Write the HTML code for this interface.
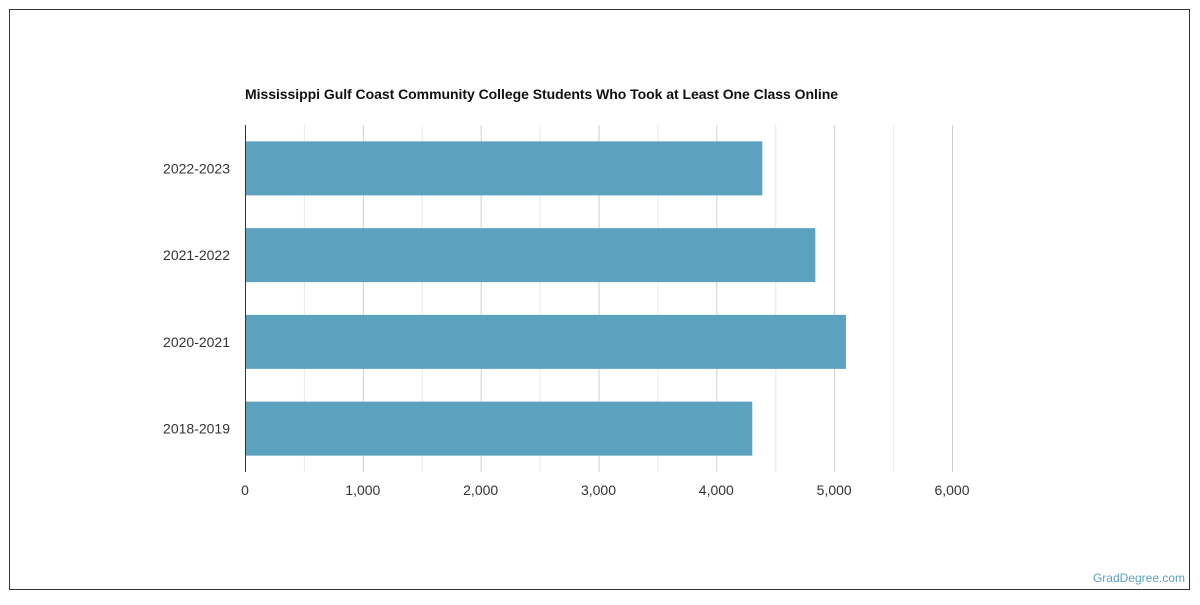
<!DOCTYPE html>
<html><head><meta charset="utf-8"><style>
body{margin:0;background:#fff;font-family:"Liberation Sans",sans-serif}
svg text{font-family:"Liberation Sans",sans-serif}
</style></head><body>
<svg width="1200" height="600">
<rect x="9.5" y="9.5" width="1180" height="580" fill="#fff" stroke="#333"/>
<text x="245" y="99" font-size="14" font-weight="bold" fill="#111" textLength="593">Mississippi Gulf Coast Community College Students Who Took at Least One Class Online</text>
<g id="grid"></g><g id="bars"></g><g id="ylabels"></g><g id="xlabels"></g>
<line x1="245.5" y1="125" x2="245.5" y2="472" stroke="#333"/>
<text x="1185" y="582" font-size="12" fill="#5ca2bf" text-anchor="end">GradDegree.com</text>
</svg>
<script>
const categories=["2022-2023","2021-2022","2020-2021","2018-2019"];
const values=[4390,4840,5100,4305];
const ticks=[0,1000,2000,3000,4000,5000,6000];
const tickLabels=["0","1,000","2,000","3,000","4,000","5,000","6,000"];
const NS="http://www.w3.org/2000/svg";
const x0=245,pxPer=(952-245)/6000,yTop=125,yBot=472,band=(yBot-yTop)/categories.length,bh=54;
const X=v=>x0+v*pxPer;
function mk(t,a,p){const e=document.createElementNS(NS,t);for(const k in a)e.setAttribute(k,a[k]);p.appendChild(e);return e;}
const grid=document.getElementById('grid');
for(let v=500;v<=6000;v+=500){
 const l=mk('line',{x1:X(v)+.5,x2:X(v)+.5,y1:yTop,y2:yBot,stroke:v%1000?'#e8e8e8':'#cfcfcf'},grid);
 
 
}
const bars=document.getElementById('bars'),yl=document.getElementById('ylabels'),xl=document.getElementById('xlabels');
categories.forEach((c,i)=>{
 const y=yTop+band*i+(band-bh)/2;
 const r=mk('rect',{x:x0,y:y,width:X(values[i])-x0,height:bh,fill:'#5ca2bf'},bars);
 
 
 const t=mk('text',{x:230,y:y+bh/2+5,'font-size':14,fill:'#333','text-anchor':'end'},yl);t.textContent=c;
 
 
});
ticks.forEach((v,i)=>{
 const t=mk('text',{x:X(v),y:495,'font-size':14,fill:'#333','text-anchor':'middle'},xl);t.textContent=tickLabels[i];
 
 
});
</script>
</body></html>
